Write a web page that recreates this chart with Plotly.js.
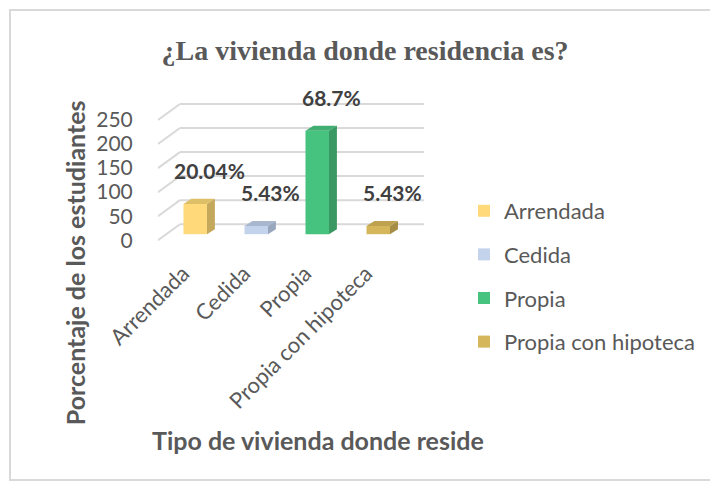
<!DOCTYPE html>
<html>
<head>
<meta charset="utf-8">
<script src="https://cdn.plot.ly/plotly-3.0.1.min.js"></script>
<style>
  html, body { margin: 0; padding: 0; background: #ffffff; }
  #chart { position: absolute; left: 0; top: 0; width: 710px; height: 482px; }
  #frame { position: absolute; left: 9px; top: 9px; width: 720px; height: 468px;
           border: 2px solid #d9d9d9; pointer-events: none; }
</style>
</head>
<body>
<div id="chart"></div>
<div id="frame"></div>
<script>
// ---- data ----
var categories = ["Arrendada", "Cedida", "Propia", "Propia con hipoteca"];
var counts = [63, 17, 215, 17];
var percentLabels = ["20.04%", "5.43%", "68.7%", "5.43%"];
var yTicks = [0, 50, 100, 150, 200, 250];
var frontColors = ["#FFD97A", "#C3D3EB", "#46C37E", "#D5B65A"];
var sideColors = ["#C4A95C", "#98A6BE", "#3A9863", "#A68D45"];
var topColors = ["#DDBF68", "#A8B6CE", "#40AE70", "#BFA24F"];

// ---- pseudo-3D geometry (in axis units) ----
var barWidth = 0.385;
var barBase = 12.5;      // bars sit a bit behind the front plane
var barDX = 0.13, barDY = 10.5;   // bar depth
var wallDX = 0.36, wallDY = 33.3; // back-wall offset
var xMin = -0.61, xMax = 3.75;
var labelShift = -0.2;   // category label anchor shift

var traces = categories.map(function (c, i) {
  return {
    type: "bar",
    x: [i],
    y: [counts[i]],
    base: [barBase],
    width: [barWidth],
    name: c,
    legendgroup: c,
    marker: { color: frontColors[i], line: { width: 0 } },
    hoverinfo: "skip"
  };
});

var shapes = [];
yTicks.forEach(function (t) {
  shapes.push({ type: "line", xref: "x", yref: "y", layer: "below",
    x0: xMin + wallDX, x1: xMax, y0: t + wallDY, y1: t + wallDY,
    line: { color: "#d9d9d9", width: 2 } });
  shapes.push({ type: "line", xref: "x", yref: "y", layer: "below",
    x0: xMin, x1: xMin + wallDX, y0: t, y1: t + wallDY,
    line: { color: "#d9d9d9", width: 2 } });
});
categories.forEach(function (c, i) {
  var xl = i - barWidth / 2, xr = i + barWidth / 2;
  var yb = barBase, yt = barBase + counts[i];
  shapes.push({ type: "path", xref: "x", yref: "y", layer: "above",
    path: "M" + xr + "," + yb + " L" + (xr + barDX) + "," + (yb + barDY) +
          " L" + (xr + barDX) + "," + (yt + barDY) + " L" + xr + "," + yt + " Z",
    fillcolor: sideColors[i], line: { width: 0 } });
  shapes.push({ type: "path", xref: "x", yref: "y", layer: "above",
    path: "M" + xl + "," + yt + " L" + xr + "," + yt +
          " L" + (xr + barDX) + "," + (yt + barDY) + " L" + (xl + barDX) + "," + (yt + barDY) + " Z",
    fillcolor: topColors[i], line: { width: 0 } });
});

var annotations = categories.map(function (c, i) {
  return {
    xref: "x", yref: "y", x: i + 0.23, y: barBase + counts[i] + 70,
    text: "<b>" + percentLabels[i] + "</b>", showarrow: false,
    font: { family: "Lato, sans-serif", size: 21, color: "#404040" },
    xanchor: "center", yanchor: "middle"
  };
});
annotations.push({
  xref: "paper", yref: "paper", x: (318 - 158) / 266, y: (244.8 - 440) / 148.8,
  text: "<b>Tipo de vivienda donde reside</b>", showarrow: false,
  font: { family: "Lato, sans-serif", size: 25, color: "#595959" },
  xanchor: "center", yanchor: "middle"
});
annotations.push({
  xref: "paper", yref: "paper", x: (75 - 158) / 266, y: (244.8 - 263) / 148.8,
  text: "<b>Porcentaje de los estudiantes</b>", showarrow: false, textangle: -90,
  font: { family: "Lato, sans-serif", size: 25, color: "#595959" },
  xanchor: "center", yanchor: "middle"
});

var layout = {
  width: 710, height: 482,
  margin: { l: 158, r: 286.25, t: 96, b: 237.2, pad: 0 },
  paper_bgcolor: "#ffffff", plot_bgcolor: "rgba(0,0,0,0)",
  barmode: "overlay",
  showlegend: true,
  title: {
    text: "<b>¿La vivienda donde residencia es?</b>",
    font: { family: "Liberation Serif, Times New Roman, serif", size: 28, color: "#595959" },
    xref: "container", yref: "container", x: 365 / 710, y: 1 - 50 / 482,
    xanchor: "center", yanchor: "middle"
  },
  xaxis: {
    range: [xMin, xMax], tickvals: categories.map(function (c, i) { return i + labelShift; }),
    ticktext: categories,
    tickangle: -45, showgrid: false, zeroline: false, showline: false,
    ticks: "outside", ticklen: 6, tickcolor: "rgba(0,0,0,0)",
    tickfont: { family: "Lato, sans-serif", size: 22, color: "#595959" },
    fixedrange: true
  },
  yaxis: {
    range: [-10, 300], tickvals: yTicks, ticktext: yTicks.map(String),
    showgrid: false, zeroline: false, showline: false,
    ticks: "outside", ticklen: 20, tickcolor: "rgba(0,0,0,0)",
    tickfont: { family: "Lato, sans-serif", size: 21, color: "#595959" },
    fixedrange: true
  },
  legend: {
    xref: "container", yref: "container",
    x: 464 / 710, xanchor: "left",
    y: 1 - 190 / 482, yanchor: "top",
    maxheight: 400,
    font: { family: "Lato, sans-serif", size: 22, color: "#595959" },
    tracegroupgap: 12, bgcolor: "rgba(0,0,0,0)"
  },
  shapes: shapes,
  annotations: annotations
};

Plotly.newPlot("chart", traces, layout, { displayModeBar: false, staticPlot: true });
</script>
</body>
</html>
